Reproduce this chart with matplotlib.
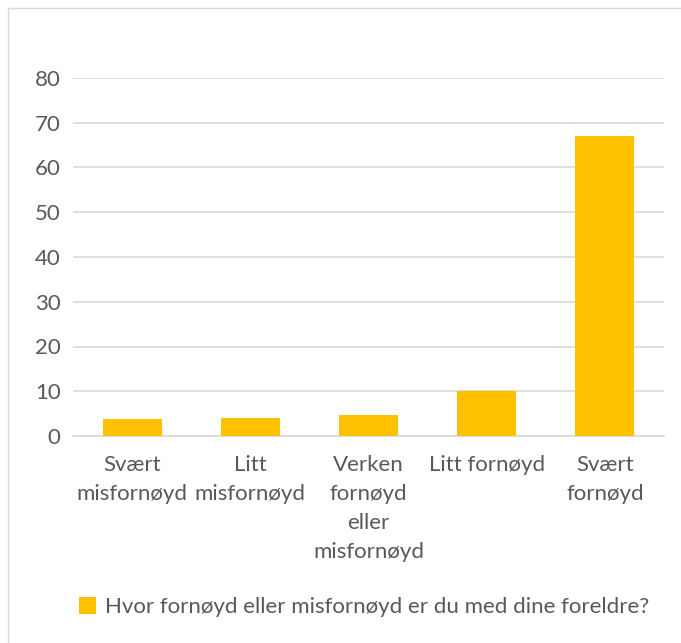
import matplotlib.pyplot as plt
from matplotlib.patches import Rectangle

categories = ['Svært\nmisfornøyd', 'Litt\nmisfornøyd', 'Verken\nfornøyd\neller\nmisfornøyd',
              'Litt fornøyd', 'Svært\nfornøyd']
values = [3.9, 4.1, 4.8, 10.0, 67.1]
series_name = 'Hvor fornøyd eller misfornøyd er du med dine foreldre?'
yticks = [0, 10, 20, 30, 40, 50, 60, 70, 80]

W, H = 681, 643
plt.rcParams['font.family'] = ['Lato', 'DejaVu Sans']
text_col = '#595959'
gold = '#FFC000'
fs = 16

fig = plt.figure(figsize=(W / 100, H / 100), dpi=100)
# outer chart frame (only top/left visible, image is cropped)
fig.patches.append(Rectangle((8 / W, -0.1), 1.2, 1.1 - 8 / H, transform=fig.transFigure,
                             fill=False, edgecolor='#D9D9D9', linewidth=1))

ax = fig.add_axes([73 / W, (H - 436) / H, (664 - 73) / W, (436 - 78) / H])
bars = ax.bar(range(len(values)), values, width=0.5, color=gold, label=series_name, zorder=3)
ax.set_xlim(-0.5, len(values) - 0.5)
ax.set_ylim(0, 80)
ax.set_yticks(yticks)
ax.yaxis.grid(True, color='#D9D9D9', linewidth=1.2, zorder=0)
for s in ['top', 'right', 'left']:
    ax.spines[s].set_visible(False)
ax.spines['bottom'].set_color('#D9D9D9')
ax.spines['bottom'].set_linewidth(1.2)
ax.tick_params(axis='both', length=0, colors=text_col, labelsize=fs)
ax.tick_params(axis='y', pad=9)
ax.tick_params(axis='x', pad=14)
ax.set_xticks(range(len(values)))
ax.set_xticklabels(categories, linespacing=1.55, va='top')

fig.legend(handles=[bars], loc='center', bbox_to_anchor=(364 / W, (H - 607) / H),
           frameon=False, fontsize=fs, labelcolor=text_col,
           handlelength=0.8, handleheight=0.8, handletextpad=0.4)

fig.savefig('out.png', dpi=100)
